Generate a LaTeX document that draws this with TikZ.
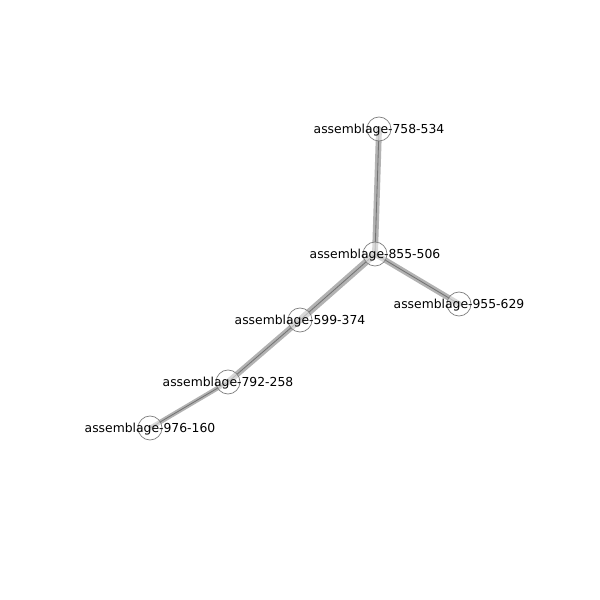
\documentclass[tikz,border=0pt]{standalone}
\usepackage{fontspec}
\setmainfont{DejaVu Sans}
\usepackage{tikz}
\usetikzlibrary{backgrounds}

\begin{document}
\begin{tikzpicture}[
  site/.style={circle, draw=black!50, line width=0.5pt, fill=white, fill opacity=0.5, minimum size=0.6cm, inner sep=0pt},
  tag/.style={font=\fontsize{8.8}{10}\selectfont, inner sep=0pt},
  link/.style={draw=black!30, line cap=round},
  core/.style={draw=black!55, line width=0.6pt}
]
\useasboundingbox (0,0) rectangle (15,15);

% Sites
\node[site] (s758) at (9.475,11.775) {};
\node[site] (s855) at (9.375,8.65) {};
\node[site] (s955) at (11.475,7.4) {};
\node[site] (s599) at (7.5,7.0) {};
\node[site] (s792) at (5.7,5.45) {};
\node[site] (s976) at (3.75,4.3) {};

% Links
\begin{scope}[on background layer]
\draw[link, line width=4.2pt] (s758.center) -- (s855.center);
\draw[link, line width=4.0pt] (s855.center) -- (s955.center);
\draw[link, line width=4.8pt] (s855.center) -- (s599.center);
\draw[link, line width=4.2pt] (s599.center) -- (s792.center);
\draw[link, line width=3.2pt] (s792.center) -- (s976.center);
\draw[core] (s758.center) -- (s855.center);
\draw[core] (s855.center) -- (s955.center);
\draw[core] (s855.center) -- (s599.center);
\draw[core] (s599.center) -- (s792.center);
\draw[core] (s792.center) -- (s976.center);
\end{scope}

% Labels
\node[tag] (t758) at ([yshift=-1pt]s758.center) {assemblage-758-534};
\node[tag] (t855) at ([yshift=-1pt]s855.center) {assemblage-855-506};
\node[tag] (t955) at ([yshift=-1pt]s955.center) {assemblage-955-629};
\node[tag] (t599) at ([yshift=-1pt]s599.center) {assemblage-599-374};
\node[tag] (t792) at ([yshift=-1pt]s792.center) {assemblage-792-258};
\node[tag] (t976) at ([yshift=-1pt]s976.center) {assemblage-976-160};

\end{tikzpicture}
\end{document}
